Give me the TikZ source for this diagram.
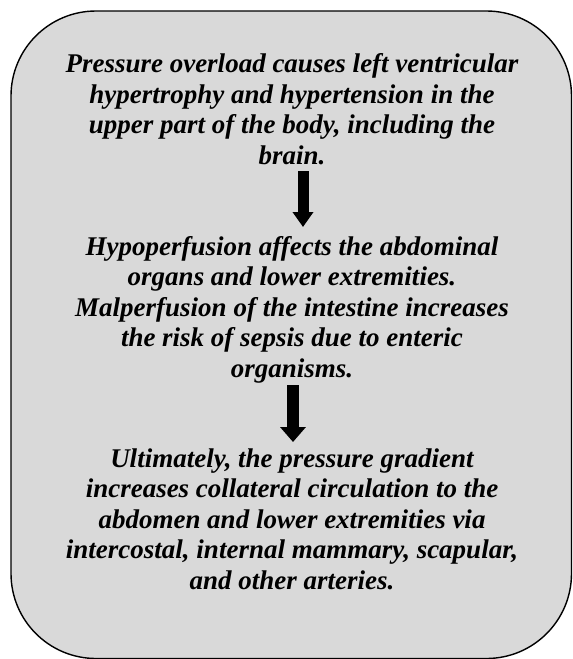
\documentclass[tikz,border=0pt]{standalone}
\usepackage{fontspec}
\setmainfont{Liberation Serif}
\usetikzlibrary{arrows.meta}
\definecolor{boxgray}{RGB}{217,217,217}
\tikzset{
  txt/.style={align=center, font=\fontsize{27}{30.5}\selectfont\bfseries\itshape, inner sep=0pt, anchor=base},
  fatarrow/.style={line width=11pt, -{Triangle[length=15pt, width=20pt]}},
  fatarrowb/.style={line width=12pt, -{Triangle[length=15pt, width=25pt]}},
}
\begin{document}
\begin{tikzpicture}[x=1pt,y=-1pt]
\useasboundingbox (0,0) rectangle (573,659);
\draw[line width=1.4pt, fill=boxgray, rounded corners=85pt] (11,11) rectangle (571.5,658.5);
\node[txt] (t1) at (292,164) {Pressure overload causes left ventricular\\hypertrophy and hypertension in the\\upper part of the body, including the\\brain.};
\node[txt] (t2) at (292,377) {Hypoperfusion affects the abdominal\\organs and lower extremities.\\Malperfusion of the intestine increases\\the risk of sepsis due to enteric\\organisms.};
\node[txt] (t3) at (292,589) {Ultimately, the pressure gradient\\increases collateral circulation to the\\abdomen and lower extremities via\\intercostal, internal mammary, scapular,\\and other arteries.};
\coordinate (a1s) at (303,171);
\coordinate (a1e) at (303,227);
\coordinate (a2s) at (293,385);
\coordinate (a2e) at (293,442);
\draw[fatarrow] (a1s) -- (a1e);
\draw[fatarrowb] (a2s) -- (a2e);
\end{tikzpicture}
\end{document}
